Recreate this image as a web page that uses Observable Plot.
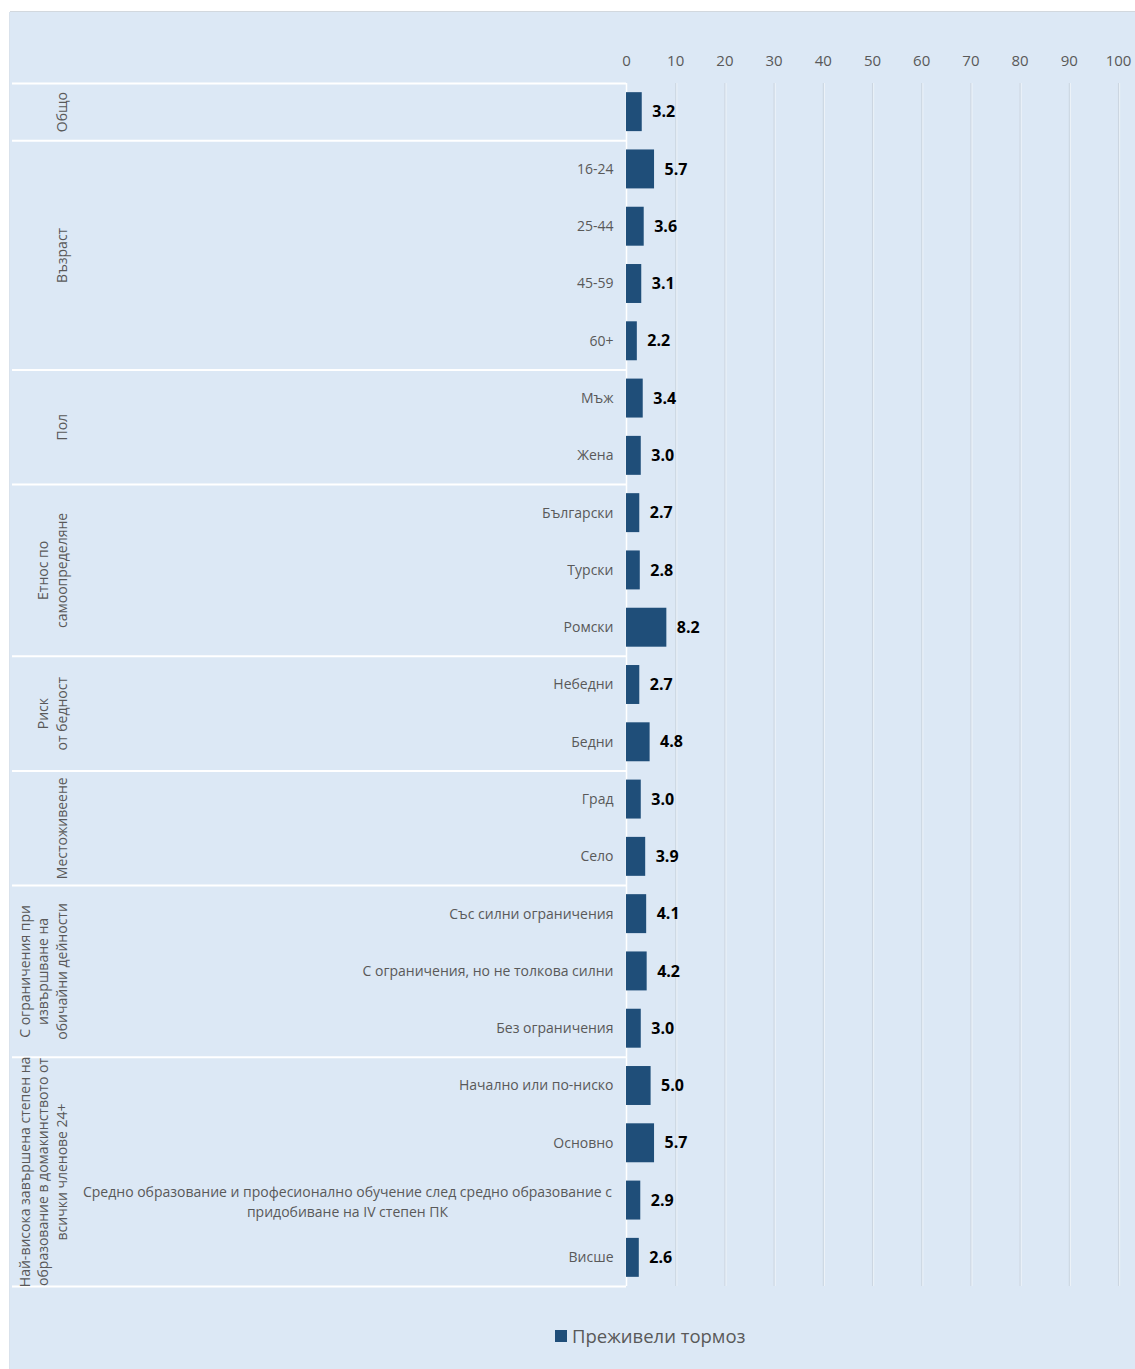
<!DOCTYPE html>
<html>
<head>
<meta charset="utf-8">
<script src="https://cdn.jsdelivr.net/npm/d3@7"></script>
<script src="https://cdn.jsdelivr.net/npm/@observablehq/plot@0.6"></script>
<style>
  html, body { margin: 0; padding: 0; background: #ffffff; }
  #box {
    position: absolute; left: 10px; top: 12px; width: 1125px; height: 1357px;
    background: #dce8f5; box-shadow: 0 -1px 0 #d2d8de, -1px 0 0 #d9e2ec;
    font-family: "Open Sans", "Noto Sans", sans-serif;
  }
  #chart { position: absolute; left: 0; top: 0; }
  #legend {
    position: absolute; left: 545px; top: 1311px; display: flex; align-items: center;
    font-size: 18.5px; color: #595959; white-space: nowrap;
  }
  #legend .sw { width: 12px; height: 12px; background: #1f4e79; margin-right: 5px; }
</style>
</head>
<body>
<div id="box">
  <div id="chart"></div>
  <div id="legend"><span class="sw"></span><span id="legendText"></span></div>
</div>
<script>
// ---- data ----
const groups = [
  "Общо",
  "Възраст",
  "Пол",
  "Етнос по\nсамоопределяне",
  "Риск\nот бедност",
  "Местоживеене",
  "С ограничения при\nизвършване на\nобичайни дейности",
  "Най-висока завършена степен на\nобразование в домакинството от\nвсички членове 24+"
];
const categories = [
  "",
  "16-24", "25-44", "45-59", "60+",
  "Мъж", "Жена",
  "Български", "Турски", "Ромски",
  "Небедни", "Бедни",
  "Град", "Село",
  "Със силни ограничения", "С ограничения, но не толкова силни", "Без ограничения",
  "Начално или по-ниско", "Основно",
  "Средно образование и професионално обучение след средно образование с\nпридобиване на IV степен ПК",
  "Висше"
];
const groupOf = [0, 1, 1, 1, 1, 2, 2, 3, 3, 3, 4, 4, 5, 5, 6, 6, 6, 7, 7, 7, 7];
const values = [3.2, 5.7, 3.6, 3.1, 2.2, 3.4, 3.0, 2.7, 2.8, 8.2, 2.7, 4.8, 3.0, 3.9, 4.1, 4.2, 3.0, 5.0, 5.7, 2.9, 2.6];
const xTicks = [0, 10, 20, 30, 40, 50, 60, 70, 80, 90, 100];
const seriesName = "Преживели тормоз";

// ---- derived tables ----
const rows = categories.map((c, i) => ({i, category: c, group: groupOf[i], value: values[i]}));
const groupRows = groups.map((g, gi) => {
  const idx = rows.filter(r => r.group === gi).map(r => r.i);
  return {label: g, first: d3.min(idx), last: d3.max(idx), mid: d3.mean(idx)};
});
const boundaries = [-0.5, ...groupRows.map(g => g.last + 0.5)];
const longLabel = rows.filter(r => r.category.includes("\n"));
const shortLabels = rows.filter(r => !r.category.includes("\n"));

const W = 1125, H = 1300, ML = 616, MR = 17, MT = 71, MB = 26;
const xLeftEdge = -(ML - 2) / ((W - ML - MR) / 100); // left edge of the box in x units
const half = 0.34;
const grey = "#595959";

const chart = Plot.plot({
  width: W,
  height: H,
  marginLeft: ML,
  marginRight: MR,
  marginTop: MT,
  marginBottom: MB,
  style: {background: "transparent", fontFamily: "'Open Sans', 'Noto Sans', sans-serif", overflow: "visible"},
  x: {domain: [0, 100]},
  y: {domain: [-0.5, categories.length - 0.5], reverse: true, axis: null},
  marks: [
    Plot.gridX(xTicks.slice(1), {stroke: "#ccd6e1", strokeOpacity: 1, strokeWidth: 1.1}),
    Plot.gridX(xTicks.slice(1), {stroke: "#f2f6fa", strokeOpacity: 0.7, strokeWidth: 1, dx: 1.2}),
    Plot.axisX({anchor: "top", ticks: xTicks, tickSize: 0, tickPadding: 18, fontSize: 15, color: grey, label: null, tickFormat: d => String(d)}),
    Plot.ruleY(boundaries, {x1: xLeftEdge, x2: 0, stroke: "#ffffff", strokeWidth: 2}),
    Plot.ruleX([0], {stroke: "#ffffff", strokeWidth: 1.5}),
    Plot.rectX(rows, {x1: 0, x2: "value", y1: d => d.i - half, y2: d => d.i + half, fill: "#1f4e79"}),
    Plot.text(rows, {x: "value", y: "i", text: d => d.value.toFixed(1), textAnchor: "start", dx: 10, fontSize: 16, fontWeight: "bold", fill: "#000000"}),
    Plot.text(shortLabels, {x: 0, y: "i", text: "category", textAnchor: "end", dx: -13, fontSize: 14, fill: grey}),
    Plot.text(longLabel, {x: 0, y: "i", text: "category", textAnchor: "middle", dx: -279, fontSize: 14, fill: grey, lineHeight: 1.4}),
    Plot.text(groupRows, {x: 0, y: "mid", text: "label", rotate: -90, lineAnchor: "bottom", textAnchor: "middle", dx: -560, fontSize: 14, fill: grey, lineHeight: 1.3})
  ]
});
document.getElementById("chart").appendChild(chart);
document.getElementById("legendText").textContent = seriesName;
</script>
</body>
</html>
